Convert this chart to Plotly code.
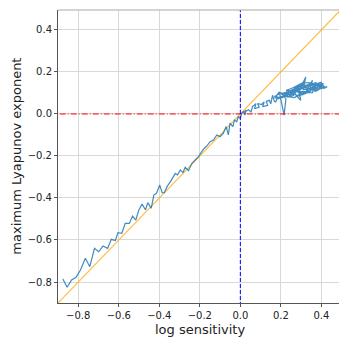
import plotly.graph_objects as go

# Trajectory (log sensitivity, maximum Lyapunov exponent)
log_sens = [
    -0.876, -0.855, -0.833, -0.811, -0.789, -0.765, -0.743, -0.720, -0.699, -0.678,
    -0.655, -0.637, -0.617, -0.604, -0.585, -0.568, -0.548, -0.532, -0.516, -0.501,
    -0.485, -0.468, -0.457, -0.440, -0.427, -0.414, -0.398, -0.386, -0.375, -0.362,
    -0.345, -0.329, -0.321, -0.310, -0.296, -0.283, -0.272, -0.256, -0.239, -0.223,
    -0.206, -0.198, -0.182, -0.165, -0.149, -0.133, -0.116, -0.100, -0.084, -0.070,
    -0.059, -0.051, -0.037, -0.029, -0.018, -0.010, 0.000, 0.007, 0.015, 0.023,
    0.028, 0.015, 0.040, 0.053, 0.060, 0.077, 0.070, 0.093, 0.085, 0.105,
    0.118, 0.110, 0.135, 0.128, 0.143, 0.150, 0.159, 0.168, 0.175, 0.184,
    0.170, 0.192, 0.200, 0.216, 0.225, 0.212, 0.241, 0.230, 0.265, 0.250,
    0.282, 0.270, 0.298, 0.290, 0.323, 0.310, 0.339, 0.320, 0.356, 0.345,
    0.380, 0.365, 0.401, 0.390, 0.429, 0.397, 0.410, 0.330, 0.260, 0.300,
    0.215, 0.280, 0.240, 0.315, 0.285, 0.350, 0.305, 0.370, 0.335, 0.395,
    0.360, 0.325, 0.275, 0.230, 0.255, 0.200, 0.245, 0.290, 0.340, 0.375,
    0.355, 0.310, 0.268, 0.220, 0.180, 0.238, 0.292, 0.330, 0.362, 0.405,
    0.385, 0.345, 0.300, 0.262, 0.208, 0.168, 0.198, 0.252, 0.318, 0.372,
    0.415, 0.382, 0.338, 0.278, 0.226, 0.260, 0.312, 0.352, 0.392, 0.420,
]
lyap_exp = [
    -0.786, -0.825, -0.790, -0.778, -0.743, -0.687, -0.727, -0.640, -0.656, -0.629,
    -0.640, -0.597, -0.603, -0.565, -0.568, -0.521, -0.521, -0.486, -0.505, -0.457,
    -0.429, -0.457, -0.422, -0.449, -0.386, -0.378, -0.338, -0.375, -0.375, -0.346,
    -0.322, -0.298, -0.283, -0.290, -0.267, -0.279, -0.254, -0.270, -0.235, -0.219,
    -0.203, -0.190, -0.168, -0.152, -0.132, -0.124, -0.100, -0.108, -0.092, -0.060,
    -0.100, -0.044, -0.060, -0.029, -0.037, -0.013, -0.020, 0.003, 0.011, -0.005,
    0.018, 0.005, 0.020, 0.010, 0.035, 0.049, 0.025, 0.033, 0.050, 0.045,
    0.057, 0.035, 0.041, 0.060, 0.065, 0.048, 0.089, 0.060, 0.057, 0.081,
    0.075, 0.105, 0.070, -0.006, 0.073, 0.085, 0.113, 0.080, 0.089, 0.100,
    0.137, 0.095, 0.065, 0.110, 0.176, 0.115, 0.121, 0.100, 0.160, 0.120,
    0.113, 0.140, 0.152, 0.125, 0.129, 0.121, 0.145, 0.135, 0.105, 0.120,
    0.090, 0.115, 0.090, 0.145, 0.100, 0.110, 0.090, 0.125, 0.150, 0.135,
    0.115, 0.125, 0.120, 0.100, 0.080, 0.095, 0.110, 0.130, 0.140, 0.150,
    0.100, 0.105, 0.078, 0.085, 0.070, 0.102, 0.085, 0.112, 0.132, 0.140,
    0.118, 0.128, 0.140, 0.118, 0.078, 0.082, 0.100, 0.092, 0.128, 0.108,
    0.132, 0.143, 0.105, 0.108, 0.112, 0.125, 0.150, 0.145, 0.128, 0.122,
]

x_range = [-0.9, 0.487]
y_range = [-0.9, 0.495]
x_ticks = [-0.8, -0.6, -0.4, -0.2, 0.0, 0.2, 0.4]
y_ticks = [-0.8, -0.6, -0.4, -0.2, 0.0, 0.2, 0.4]
tick_text = ["−0.8", "−0.6", "−0.4", "−0.2", "0.0", "0.2", "0.4"]
x_title = "log sensitivity"
y_title = "maximum Lyapunov exponent"

fig = go.Figure()

# identity line
fig.add_trace(go.Scatter(x=[-1.0, 0.6], y=[-1.0, 0.6], mode="lines",
                         line=dict(color="rgba(255,165,0,0.75)", width=1.2),
                         hoverinfo="skip"))
# data
fig.add_trace(go.Scatter(x=log_sens, y=lyap_exp, mode="lines",
                         line=dict(color="rgba(31,119,180,0.85)", width=1.2)))
# reference lines
fig.add_trace(go.Scatter(x=[-1.0, 0.6], y=[0, 0], mode="lines",
                         line=dict(color="red", width=1, dash="6px,2px,1px,2px")))
fig.add_trace(go.Scatter(x=[0, 0], y=[-1.0, 0.6], mode="lines",
                         line=dict(color="blue", width=1, dash="4px,2px")))

fig.add_shape(type="line", xref="paper", yref="paper", x0=0, x1=1, y0=1, y1=1,
              line=dict(color="#aaaaaa", width=1.2))

axis_common = dict(
    showgrid=True, gridcolor="#d9d9d9", gridwidth=1,
    zeroline=False, showline=True, linecolor="#555555", linewidth=1,
    ticks="outside", ticklen=3, tickcolor="#555555", automargin=False,
    tickfont=dict(family="DejaVu Sans", size=10, color="#222222"),
)

fig.update_xaxes(range=x_range, tickvals=x_ticks, ticktext=tick_text, **axis_common)
fig.update_yaxes(range=y_range, tickvals=y_ticks, ticktext=tick_text, **axis_common)

title_font = dict(family="DejaVu Sans", size=13, color="#222222")
fig.add_annotation(text=x_title, xref="paper", yref="paper", x=0.505, y=-0.092,
                   xanchor="center", yanchor="middle", showarrow=False, font=title_font)
fig.add_annotation(text=y_title, xref="paper", yref="paper", x=-0.149, y=0.5,
                   xanchor="center", yanchor="middle", showarrow=False,
                   textangle=-90, font=title_font)

fig.update_layout(
    width=339, height=338,
    margin=dict(l=58, r=0, t=10, b=35),
    plot_bgcolor="white", paper_bgcolor="white",
    showlegend=False,
)

fig.write_html("out.html", config={"displayModeBar": False},
               post_script="document.body.style.margin='0';document.body.style.overflow='hidden';")
